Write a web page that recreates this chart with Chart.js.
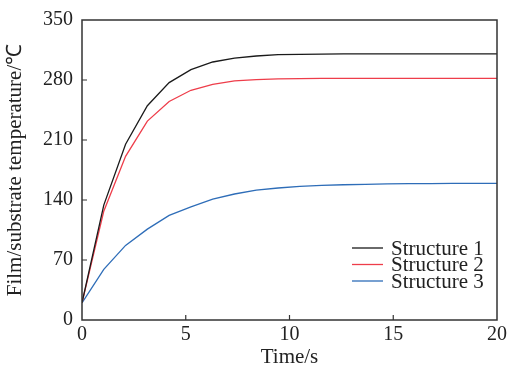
<!DOCTYPE html>
<html>
<head>
<meta charset="utf-8">
<script src="https://cdn.jsdelivr.net/npm/chart.js@4"></script>
<style>
html,body{margin:0;padding:0;background:#fff;}
#wrap{width:508px;height:370px;}
</style>
</head>
<body>
<div id="wrap"><canvas id="c" width="508" height="370"></canvas></div>
<script>
const times = [0, 1.05, 2.1, 3.15, 4.2, 5.25, 6.3, 7.35, 8.4, 9.45, 10.5, 11.55, 12.6, 13.65, 14.7, 15.75, 16.8, 17.85, 18.9, 20];
const structure1 = [20, 134, 205, 250, 277, 292, 301, 305.5, 308, 309.5, 310, 310.3, 310.5, 310.5, 310.5, 310.5, 310.5, 310.5, 310.5, 310.5];
const structure2 = [20, 127, 191, 232, 255, 268, 275, 279, 280.5, 281.3, 281.7, 282, 282, 282, 282, 282, 282, 282, 282, 282];
const structure3 = [20, 59, 87, 106, 122, 132, 141, 147, 151.5, 154, 155.8, 157, 157.8, 158.3, 158.7, 159, 159.2, 159.3, 159.4, 159.5];
const seriesNames = ['Structure 1', 'Structure 2', 'Structure 3'];
const xTicks = [0, 5, 10, 15, 20];
const yTicks = [0, 70, 140, 210, 280, 350];
const xTitle = 'Time/s';
const yTitle = 'Film/substrate temperature/\u2103';

const colors = ['#1a1a1a', '#ee3d4a', '#2e6db8'];
const FONT = "'Liberation Serif', 'Times New Roman', serif";

function pts(ys){ return times.map((t,i)=>({x:t, y:ys[i]})); }

const framePlugin = {
  id: 'frame',
  afterDraw(chart){
    const {ctx, chartArea:a, scales} = chart;
    ctx.save();
    ctx.strokeStyle = '#333';
    ctx.lineWidth = 1.5;
    ctx.strokeRect(a.left, a.top, a.right - a.left, a.bottom - a.top);
    ctx.lineWidth = 1.2;
    ctx.beginPath();
    xTicks.forEach(v=>{
      if (v===xTicks[0] || v===xTicks[xTicks.length-1]) return;
      const px = scales.x.getPixelForValue(v);
      ctx.moveTo(px, a.bottom); ctx.lineTo(px, a.bottom - 5);
    });
    yTicks.forEach(v=>{
      if (v===yTicks[0] || v===yTicks[yTicks.length-1]) return;
      const py = scales.y.getPixelForValue(v);
      ctx.moveTo(a.left, py); ctx.lineTo(a.left + 5, py);
    });
    ctx.stroke();
    // legend inside the plot
    ctx.font = '21px ' + FONT;
    ctx.textBaseline = 'middle';
    ctx.textAlign = 'left';
    const lx0 = a.right - 145, lx1 = lx0 + 31, tx = lx0 + 39;
    const y0 = 248, dy = 16.5;
    chart.data.datasets.forEach((ds,i)=>{
      const y = y0 + i*dy;
      ctx.strokeStyle = ds.borderColor;
      ctx.lineWidth = 1.3;
      ctx.beginPath(); ctx.moveTo(lx0, y); ctx.lineTo(lx1, y); ctx.stroke();
      ctx.fillStyle = '#222';
      ctx.fillText(ds.label, tx, y + 1);
    });
    ctx.restore();
  }
};

new Chart(document.getElementById('c'), {
  type: 'line',
  data: {
    datasets: [
      {label: seriesNames[0], data: pts(structure1), borderColor: colors[0]},
      {label: seriesNames[1], data: pts(structure2), borderColor: colors[1]},
      {label: seriesNames[2], data: pts(structure3), borderColor: colors[2]}
    ].map(d=>Object.assign(d,{borderWidth:1.3, pointRadius:0, fill:false, tension:0}))
  },
  options: {
    responsive: false,
    animation: false,
    devicePixelRatio: 1,
    layout: {padding: {top: 20, right: 11, left: 0, bottom: 0}},
    plugins: {legend: {display: false}, tooltip: {enabled: false}},
    scales: {
      x: {
        type: 'linear', min: 0, max: 20,
        afterBuildTicks(s){ s.ticks = xTicks.map(v=>({value:v})); },
        afterFit(s){ s.height = 50; s.paddingRight = 0; s.paddingLeft = 0; },
        grid: {display: false, drawTicks: false},
        border: {display: false},
        ticks: {color: '#222', font: {family: FONT, size: 20}, padding: 3, maxRotation: 0},
        title: {display: true, text: xTitle, color: '#222', font: {family: FONT, size: 21}, padding: {top: 0, bottom: 0}}
      },
      y: {
        type: 'linear', min: 0, max: 350,
        afterBuildTicks(s){ s.ticks = yTicks.map(v=>({value:v})); },
        afterFit(s){ s.width = 82; s.paddingTop = 0; s.paddingBottom = 0; },
        grid: {display: false, drawTicks: false},
        border: {display: false},
        ticks: {color: '#222', font: {family: FONT, size: 20}, padding: 9},
        title: {display: true, text: yTitle, color: '#222', font: {family: FONT, size: 21}, padding: {top: 3, bottom: 0}}
      }
    }
  },
  plugins: [framePlugin]
});
</script>
</body>
</html>
